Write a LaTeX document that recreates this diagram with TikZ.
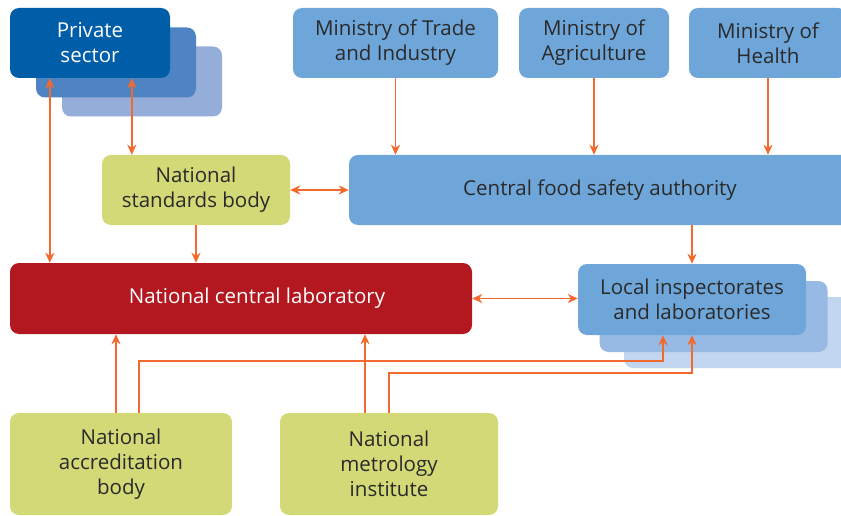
\documentclass[tikz,border=0pt]{standalone}
\usepackage{fontspec}
\setmainfont{Open Sans}
\usetikzlibrary{arrows.meta}

\definecolor{psdark}{HTML}{005DA8}
\definecolor{psmid}{HTML}{4F84C4}
\definecolor{pslight}{HTML}{94ADD9}
\definecolor{govblue}{HTML}{6FA6D9}
\definecolor{locmid}{HTML}{97BAE4}
\definecolor{loclight}{HTML}{C3D6EF}
\definecolor{natgreen}{HTML}{D3D977}
\definecolor{labred}{HTML}{B3171F}
\definecolor{linkorange}{HTML}{F26A2D}
\definecolor{textgray}{HTML}{2A2A2A}

\begin{document}
\begin{tikzpicture}[x=1pt,y=-1pt,>={Stealth[length=10pt,width=9pt,inset=3pt]},
	font=\fontsize{20.5}{25}\selectfont]
	\tikzstyle{box}=[rectangle,rounded corners=9pt,minimum height=70pt,inner sep=0pt,align=center,text=textgray]
	\tikzstyle{ministry}=[box,fill=govblue]
	\tikzstyle{national}=[box,fill=natgreen]
	\tikzstyle{dark}=[box,text=white]
	\tikzstyle{link}=[draw=linkorange,line width=1.6pt]

	\useasboundingbox (0,0) rectangle (841,516);
	\clip (0,0) rectangle (841,516);

	% Private sector, drawn as a stack of three cards
	\foreach \n/\dx/\dy/\col in {3/52/38.5/pslight,2/26/19.5/psmid}
	\node[box,fill=\col,minimum width=160pt] (PS-\n) at (90+\dx,43+\dy) {};
	\node[dark,fill=psdark,minimum width=160pt] (PS) at (90,43) {Private\\sector};

	% The three ministries
	\node[ministry,minimum width=205pt] (MTI) at (395.5,43) {Ministry of Trade\\and Industry};
	\node[ministry,minimum width=150pt] (MA) at (594,43) {Ministry of\\Agriculture};
	\node[ministry,minimum width=158pt] (MH) at (768,43) {Ministry of\\Health};

	% Middle row
	\node[national,minimum width=188pt] (NSB) at (196,190) {National\\standards body};
	\node[ministry,minimum width=502pt] (CFSA) at (600,190) {Central food safety authority};

	% Laboratories
	\node[dark,fill=labred,minimum width=462pt,minimum height=71pt] (NCL) at (241,298.5) {\hspace*{32pt}National central laboratory};
	\foreach \n/\dx/\dy/\col in {3/46/33/loclight,2/21.5/17/locmid}
	\node[box,fill=\col,minimum width=228pt,minimum height=71pt] (Local-\n) at (692+\dx,299.5+\dy) {};
	\node[ministry,minimum width=228pt,minimum height=71pt] (Local) at (692,299.5) {Local inspectorates\\and laboratories};

	% Bottom row
	\node[national,minimum width=222pt,minimum height=102pt] (NAB) at (121,464) {National\\accreditation\\body};
	\node[national,minimum width=218pt,minimum height=102pt] (NMI) at (389,464) {National\\metrology\\institute};

	% Connect the private sector
	\draw[link,<->] ([xshift=40pt]PS.south west) -- ([xshift=40pt]NCL.north west);
	\draw[link,<->] ([xshift=122pt]PS.south west) -- ([xshift=30pt]NSB.north west);

	% Ministries report to the authority
	\foreach \m in {MTI,MA,MH}
	\draw[link,->] (\m.south) -- (\m.south |- CFSA.north);

	\draw[link,<->] (NSB.east) -- (NSB.east -| CFSA.west);
	\draw[link,->] (NSB.south) -- (NSB.south |- NCL.north);
	\draw[link,->] (Local.north |- CFSA.south) -- (Local.north);
	\draw[link,<->] (NCL.east) -- (NCL.east -| Local.west);

	% Accreditation and metrology feed both laboratories
	\draw[link,->] ([xshift=-5pt]NAB.north) -- ([xshift=-5pt]NAB.north |- NCL.south);
	\draw[link,->] ([xshift=-24pt]NMI.north) -- ([xshift=-24pt]NMI.north |- NCL.south);
	\draw[link,->] ([xshift=18pt]NAB.north) -- ++(0,-52) -| ([xshift=-29pt]Local.south);
	\draw[link,->] (NMI.north) -- ++(0,-40) -| (Local.south);

\end{tikzpicture}
\end{document}
